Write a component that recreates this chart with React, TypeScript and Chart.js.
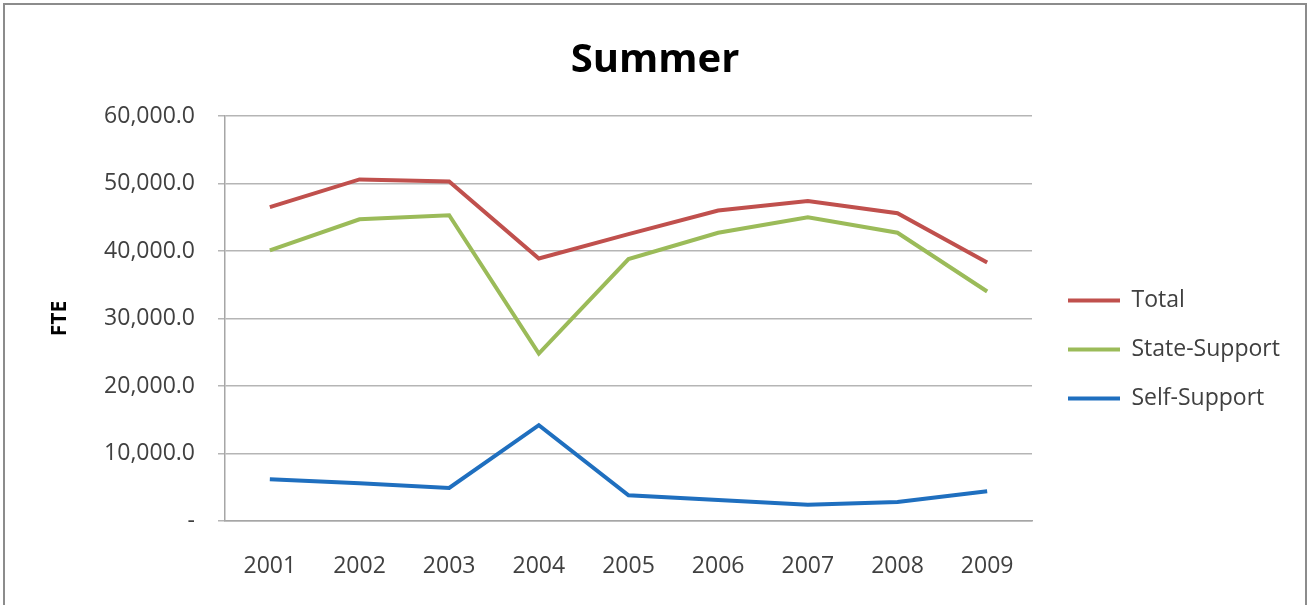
import React, { useEffect, useRef } from "react";
import { Chart, registerables } from "chart.js";

Chart.register(...registerables);

const years = ["2001", "2002", "2003", "2004", "2005", "2006", "2007", "2008", "2009"];
const total = [46500, 50600, 50300, 38900, 42500, 46000, 47400, 45600, 38300];
const stateSupport = [40100, 44700, 45300, 24800, 38800, 42700, 45000, 42700, 34000];
const selfSupport = [6200, 5600, 4900, 14200, 3800, 3100, 2400, 2800, 4400];
const seriesNames = ["Total", "State-Support", "Self-Support"];
const seriesColors = ["#C0504D", "#9BBB59", "#1F6FBF"];

const FONT = "'Open Sans', 'Noto Sans', sans-serif";
const TEXT = "#404040";

const legendWidthPlugin = {
  id: "legendWidth",
  beforeInit(chart: any) {
    const lg = chart.legend;
    if (!lg) return;
    const orig = lg.fit;
    lg.fit = function () {
      orig.call(this);
      this.width = 263;
    };
  },
};

export default function App() {
  const ref = useRef<HTMLCanvasElement | null>(null);

  useEffect(() => {
    document.body.style.margin = "0";
    const ctx = ref.current!;
    const values = [total, stateSupport, selfSupport];
    const chart = new Chart(ctx, {
      type: "line",
      data: {
        labels: years,
        datasets: seriesNames.map((name, i) => ({
          label: name,
          data: values[i],
          borderColor: seriesColors[i],
          backgroundColor: seriesColors[i],
          borderWidth: 4,
          pointRadius: 0,
          pointHoverRadius: 0,
          tension: 0,
          fill: false,
          yAxisID: "y",
        })),
      },
      plugins: [legendWidthPlugin],
      options: {
        animation: false,
        responsive: false,
        maintainAspectRatio: false,
        layout: { padding: { left: 0, right: 0, top: 0, bottom: 0 } },
        plugins: {
          tooltip: { enabled: false },
          title: {
            display: true,
            text: "Summer",
            color: "#000",
            font: { family: FONT, size: 40, weight: "bold" },
            padding: { top: 32, bottom: 31 },
          },
          legend: {
            position: "right",
            align: "start",
            title: {
              display: true,
              text: " ",
              font: { size: 10 },
              padding: { top: 0, bottom: 246 },
            },
            labels: {
              color: TEXT,
              font: { family: FONT, size: 23 },
              boxWidth: 52,
              boxHeight: 4,
              padding: 26,
              generateLabels: (c: any) =>
                c.data.datasets.map((ds: any, i: number) => ({
                  text: ds.label,
                  fillStyle: ds.borderColor,
                  strokeStyle: ds.borderColor,
                  lineWidth: 0,
                  hidden: false,
                  datasetIndex: i,
                  fontColor: TEXT,
                })),
            },
          },
        },
        scales: {
          x: {
            offset: true,
            grid: { display: false, drawTicks: false },
            border: { display: true, color: "#A6A6A6", width: 1.5 },
            ticks: {
              color: TEXT,
              font: { family: FONT, size: 23 },
              padding: 32,
              maxRotation: 0,
            },
            afterFit: (s: any) => {
              s.height = 84;
            },
          },
          y: {
            position: "left",
            min: 0,
            max: 60000,
            grid: { color: "#B5B5B5", lineWidth: 1.5, tickLength: 7 },
            border: { display: true, color: "#A6A6A6", width: 1.5 },
            ticks: {
              stepSize: 10000,
              color: TEXT,
              font: { family: FONT, size: 23 },
              padding: 23,
              callback: (v: any) =>
                Number(v) === 0
                  ? "-"
                  : Number(v).toLocaleString("en-US", { minimumFractionDigits: 1, maximumFractionDigits: 1 }),
            },
            title: {
              display: true,
              text: "FTE",
              color: "#000",
              font: { family: FONT, size: 21, weight: "bold" },
              padding: { top: 42, bottom: 0 },
            },
            afterFit: (s: any) => {
              s.width = 220;
            },
          },
          gap: {
            position: "right",
            display: true,
            grid: { display: false, drawTicks: false },
            border: { display: false },
            ticks: { display: false },
            afterFit: (s: any) => {
              s.width = 10;
            },
          },
        },
      },
    });
    return () => chart.destroy();
  }, []);

  return (
    <div
      style={{
        position: "fixed",
        left: 3,
        top: 3,
        width: 1300,
        height: 602,
        borderTop: "2px solid #8C8C8C",
        borderLeft: "2px solid #8C8C8C",
        borderRight: "2px solid #8C8C8C",
        background: "#fff",
        overflow: "hidden",
      }}
    >
      <canvas ref={ref} width={1300} height={600} style={{ display: "block" }} />
    </div>
  );
}
